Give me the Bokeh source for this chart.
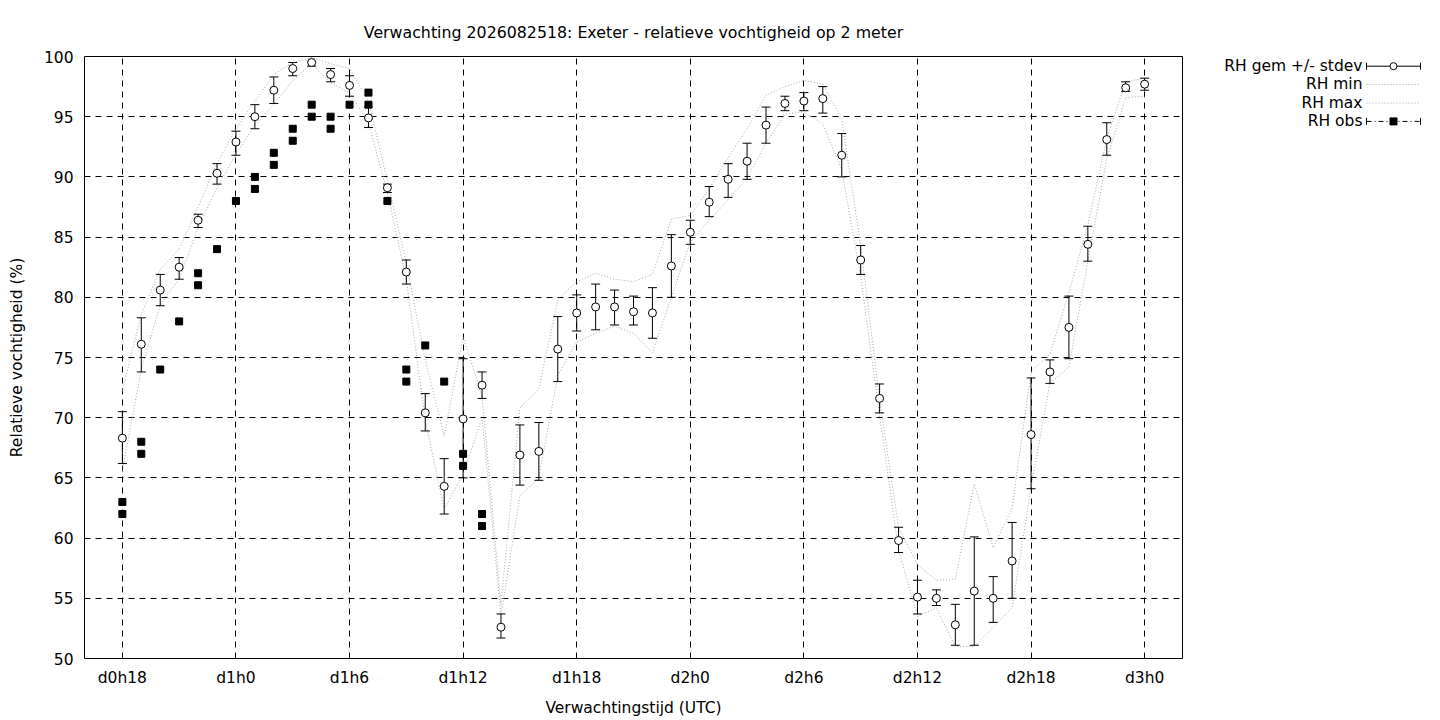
from bokeh.plotting import figure
from bokeh.models import Range1d, FixedTicker
from bokeh.layouts import row
from bokeh.embed import file_html
from bokeh.resources import INLINE
from bokeh.core.properties import value

# ---------------- data ----------------
title_text = "Verwachting 2026082518: Exeter - relatieve vochtigheid op 2 meter"
x_label = "Verwachtingstijd (UTC)"
y_label = "Relatieve vochtigheid (%)"

tick_hours = [18, 24, 30, 36, 42, 48, 54, 60, 66, 72]
tick_labels = ["d0h18", "d1h0", "d1h6", "d1h12", "d1h18", "d2h0", "d2h6", "d2h12", "d2h18", "d3h0"]
y_ticks = [50, 55, 60, 65, 70, 75, 80, 85, 90, 95, 100]

hours = list(range(18, 73))
rh_mean = [68.3, 76.1, 80.6, 82.5, 86.4, 90.3, 92.9, 95.0, 97.2, 99.0,
           99.5, 98.5, 97.6, 94.9, 89.1, 82.1, 70.4, 64.3, 69.9, 72.7,
           52.6, 66.9, 67.2, 75.7, 78.7, 79.2, 79.2, 78.8, 78.7, 82.6,
           85.4, 87.9, 89.8, 91.3, 94.3, 96.1, 96.3, 96.5, 91.8, 83.1,
           71.6, 59.8, 55.1, 55.0, 52.8, 55.6, 55.0, 58.1, 68.6, 73.8,
           77.5, 84.4, 93.1, 97.4, 97.7]
rh_lo = [66.2, 73.8, 79.3, 81.5, 85.8, 89.4, 91.8, 94.0, 96.1, 98.4,
         99.2, 97.9, 96.7, 94.1, 88.7, 81.1, 68.9, 62.0, 65.0, 71.6,
         51.7, 64.4, 64.8, 73.0, 77.2, 77.3, 77.7, 77.7, 76.6, 80.0,
         84.4, 86.7, 88.3, 89.8, 92.8, 95.5, 95.5, 95.3, 90.0, 81.9,
         70.4, 58.8, 53.7, 54.4, 51.1, 51.1, 53.0, 55.0, 64.1, 72.85,
         74.9, 83.0, 91.8, 97.1, 97.2]
rh_hi = [70.5, 78.3, 81.9, 83.3, 86.9, 91.1, 93.8, 96.0, 98.3, 99.5,
         99.6, 99.0, 98.4, 95.8, 89.4, 83.1, 72.0, 66.6, 74.9, 73.8,
         53.7, 69.4, 69.6, 78.4, 80.2, 81.1, 80.6, 80.1, 80.8, 85.2,
         86.4, 89.2, 91.1, 92.8, 95.8, 96.7, 97.0, 97.5, 93.6, 84.3,
         72.8, 60.9, 56.5, 55.7, 54.5, 60.1, 56.8, 61.3, 73.3, 74.8,
         80.1, 85.9, 94.5, 97.9, 98.2]
rh_min = [65.6, 74.0, 79.4, 81.5, 85.8, 89.1, 91.9, 94.3, 96.0, 98.0,
          99.4, 97.8, 97.0, 94.5, 88.7, 81.5, 69.8, 62.4, 65.3, 70.0,
          53.6, 63.5, 65.0, 73.5, 76.3, 77.0, 77.6, 77.0, 75.4, 80.0,
          84.6, 86.4, 88.1, 89.9, 92.8, 95.2, 95.4, 94.4, 90.6, 81.7,
          70.2, 59.0, 53.5, 54.2, 51.0, 51.0, 52.6, 54.2, 64.2, 72.9,
          74.2, 83.0, 91.5, 96.6, 96.7]
rh_max = [72.2, 78.6, 82.3, 84.0, 87.5, 91.1, 94.0, 96.3, 98.5, 99.5,
          99.9, 99.4, 99.0, 96.3, 89.7, 82.8, 74.8, 68.5, 76.7, 71.8,
          54.5, 70.8, 72.4, 79.8, 81.3, 82.0, 81.5, 81.3, 81.9, 86.5,
          86.8, 89.0, 91.6, 94.0, 96.8, 97.5, 98.0, 97.7, 94.8, 84.3,
          71.5, 60.9, 57.8, 56.5, 56.6, 64.5, 59.2, 62.5, 73.8, 75.3,
          80.4, 86.0, 93.2, 97.9, 98.2]

obs_hours = [18, 18, 19, 19, 20, 21, 22, 22, 23, 24, 25, 25, 26, 26, 27, 27,
             28, 28, 29, 29, 30, 31, 31, 32, 33, 33, 34, 35, 36, 36, 37, 37]
obs_rh = [63, 62, 68, 67, 74, 78, 82, 81, 84, 88, 90, 89, 92, 91, 94, 93,
          96, 95, 95, 94, 96, 97, 96, 88, 74, 73, 76, 73, 67, 66, 62, 61]

legend_labels = ["RH gem +/- stdev", "RH min", "RH max", "RH obs"]

FONT = "DejaVu Sans"
FS = "15.5px"
GRAY = "#a6a6a6"

# page geometry (page has no margin under Bokeh's template)
FRAME_L, FRAME_R, FRAME_T, FRAME_B = 84, 1182, 56, 659
MAIN_W = FRAME_R + 10
FIG_H = 719

# ---------------- main plot ----------------
p = figure(width=MAIN_W, height=FIG_H, x_range=Range1d(16, 74), y_range=Range1d(50, 100),
           output_backend="svg", toolbar_location=None,
           min_border_left=FRAME_L, min_border_right=MAIN_W - FRAME_R,
           min_border_top=FRAME_T, min_border_bottom=FIG_H - FRAME_B)

p.title.text = title_text
p.title.align = "center"
p.title.standoff = 30
p.title.text_font = FONT
p.title.text_font_size = "15.8px"
p.title.text_font_style = "normal"
p.title.text_color = "black"

p.outline_line_color = "black"
p.outline_line_width = 1
p.outline_line_alpha = 1

p.xaxis.ticker = FixedTicker(ticks=tick_hours)
p.xaxis.major_label_overrides = {h: l for h, l in zip(tick_hours, tick_labels)}
p.yaxis.ticker = FixedTicker(ticks=y_ticks)
for ax in (p.xaxis, p.yaxis):
    ax.axis_line_color = None
    ax.major_tick_line_color = None
    ax.minor_tick_line_color = None
    ax.major_tick_out = 0
    ax.major_tick_in = 0
    ax.major_label_text_font = FONT
    ax.major_label_text_font_size = FS
    ax.major_label_text_color = "black"
    ax.axis_label_text_font = FONT
    ax.axis_label_text_font_size = FS
    ax.axis_label_text_font_style = "normal"
    ax.axis_label_text_color = "black"
p.xaxis.axis_label = x_label
p.yaxis.axis_label = y_label
p.xaxis.major_label_standoff = 10
p.xaxis.axis_label_standoff = 9
p.yaxis.major_label_standoff = 11
p.yaxis.axis_label_standoff = 15

p.grid.grid_line_color = "black"
p.grid.grid_line_width = 1
p.grid.grid_line_dash = "6 5"
p.grid.grid_line_alpha = 1

# min / max lines
p.line(hours, rh_min, line_color=GRAY, line_width=1, line_dash="1 2")
p.line(hours, rh_max, line_color=GRAY, line_width=1, line_dash="1 2")

# error bars
p.segment(x0=hours, y0=rh_lo, x1=hours, y1=rh_hi, line_color="black", line_width=1)
p.scatter(hours, rh_lo, marker="dash", size=9, line_color="black", line_width=1)
p.scatter(hours, rh_hi, marker="dash", size=9, line_color="black", line_width=1)
p.scatter(hours, rh_mean, marker="circle", size=8, fill_color="white",
          line_color="black", line_width=1)

# observations
p.scatter(obs_hours, obs_rh, marker="square", size=7, fill_color="black", line_color="black")

# ---------------- legend panel (page pixel coordinates) ----------------
LEG_W = 240
lf = figure(width=LEG_W, height=FIG_H, x_range=Range1d(MAIN_W, MAIN_W + LEG_W),
            y_range=Range1d(FRAME_B, FRAME_T),
            output_backend="svg", toolbar_location=None,
            min_border_left=0, min_border_right=0,
            min_border_top=FRAME_T, min_border_bottom=FIG_H - FRAME_B,
            x_axis_location=None, y_axis_location=None)
lf.outline_line_color = None
lf.grid.visible = False

rows_y = [65.7, 84.0, 102.7, 121.0]
text_right = 1362
xs0, xs1 = 1366, 1420
xm = (xs0 + xs1) / 2
lf.text(x=[text_right] * 4, y=rows_y, text=legend_labels, text_align="right",
        text_baseline="middle", text_font=value(FONT), text_font_size=FS, text_color="black")

# row 1: error bar sample
y1 = rows_y[0]
lf.segment(x0=[xs0], y0=[y1], x1=[xs1], y1=[y1], line_color="black", line_width=1)
lf.segment(x0=[xs0, xs1], y0=[y1 - 3.5, y1 - 3.5], x1=[xs0, xs1], y1=[y1 + 3.5, y1 + 3.5],
           line_color="black", line_width=1)
lf.scatter([xm], [y1], marker="circle", size=7, fill_color="white", line_color="black")
# rows 2-3: dotted
for yy in rows_y[1:3]:
    lf.line([xs0, xs1], [yy, yy], line_color=GRAY, line_width=1, line_dash="1 2")
# row 4: obs
y4 = rows_y[3]
lf.line([xs0, xs1], [y4, y4], line_color="black", line_width=1, line_dash="5 3 1 3")
lf.segment(x0=[xs0, xs1], y0=[y4 - 3.5, y4 - 3.5], x1=[xs0, xs1], y1=[y4 + 3.5, y4 + 3.5],
           line_color="black", line_width=1)
lf.scatter([xm], [y4], marker="square", size=7, fill_color="black", line_color="black")

layout = row(p, lf)
open("out.html", "w").write(file_html(layout, INLINE))
